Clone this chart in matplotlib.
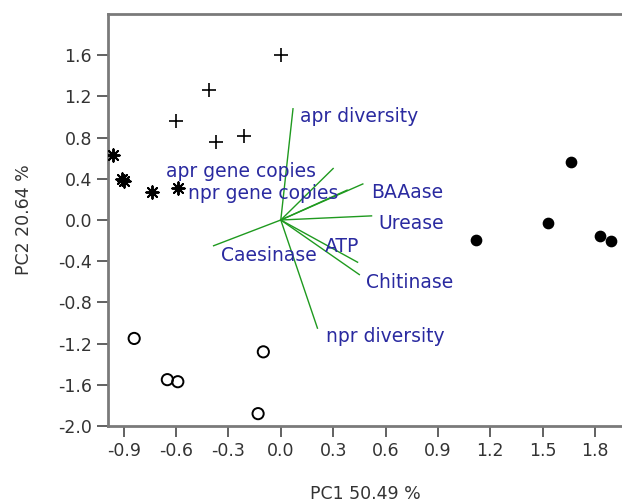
import matplotlib.pyplot as plt

# sample scores (PC1, PC2) by group
plus_x = [0.0, -0.41, -0.60, -0.37, -0.21]
plus_y = [1.60, 1.26, 0.96, 0.76, 0.82]
star_x = [-0.96, -0.91, -0.90, -0.74, -0.59]
star_y = [0.63, 0.40, 0.38, 0.27, 0.31]
dot_x = [1.12, 1.53, 1.66, 1.83, 1.89]
dot_y = [-0.19, -0.03, 0.56, -0.16, -0.20]
ring_x = [-0.84, -0.65, -0.59, -0.10, -0.13]
ring_y = [-1.15, -1.55, -1.57, -1.28, -1.88]

# loading vectors
var_names = ["apr diversity", "apr gene copies", "npr gene copies", "BAAase",
             "Urease", "ATP", "Chitinase", "Caesinase", "npr diversity"]
var_x = [0.07, 0.30, 0.38, 0.47, 0.52, 0.44, 0.45, -0.385, 0.21]
var_y = [1.08, 0.50, 0.29, 0.35, 0.04, -0.41, -0.53, -0.25, -1.05]
lab_x = [0.11, -0.66, -0.53, 0.52, 0.56, 0.25, 0.49, -0.34, 0.26]
lab_y = [1.00, 0.47, 0.26, 0.27, -0.03, -0.26, -0.61, -0.34, -1.13]

xticks = [-0.9, -0.6, -0.3, 0.0, 0.3, 0.6, 0.9, 1.2, 1.5, 1.8]
yticks = [1.6, 1.2, 0.8, 0.4, 0.0, -0.4, -0.8, -1.2, -1.6, -2.0]

fig = plt.figure(figsize=(6.22, 5.04), dpi=100)
ax = fig.add_axes([108 / 622, 78 / 504, 1 - 108 / 622, (426 - 14) / 504])

for vx, vy in zip(var_x, var_y):
    ax.plot([0, vx], [0, vy], color="#1f9a1f", lw=1.0, zorder=2)
for name, tx, ty in zip(var_names, lab_x, lab_y):
    ax.text(tx, ty, name, color="#2a2aa0", fontsize=13.5, va="center", ha="left", zorder=3)

ax.scatter(plus_x, plus_y, marker="+", s=110, color="black", linewidths=1.2, zorder=4)
ax.scatter(star_x, star_y, marker=(8, 2, 0), s=80, color="black", linewidths=1.4, zorder=4)
ax.scatter(dot_x, dot_y, marker="o", s=55, color="black", zorder=4)
ax.scatter(ring_x, ring_y, marker="o", s=65, facecolors="none", edgecolors="black",
           linewidths=1.4, zorder=4)

ax.set_xlim(-0.99, 1.955)
ax.set_ylim(-2.0, 2.0)
ax.set_xticks(xticks)
ax.set_yticks(yticks)
ax.set_xticklabels([f"{t:.1f}" for t in xticks])
ax.set_yticklabels([f"{t:.1f}" for t in yticks])

for side in ["left", "bottom", "top"]:
    ax.spines[side].set_color("#7a7a7a")
    ax.spines[side].set_linewidth(2)
ax.spines["right"].set_visible(False)
ax.tick_params(direction="out", length=8, width=1.3, color="#555555",
               labelsize=12.5, labelcolor="#333333")

ax.set_xlabel("PC1 50.49 %", fontsize=12.5, color="#333333", labelpad=18)
ax.set_ylabel("PC2 20.64 %", fontsize=12.5, color="#333333", labelpad=18)

fig.savefig("out.png", dpi=100)
